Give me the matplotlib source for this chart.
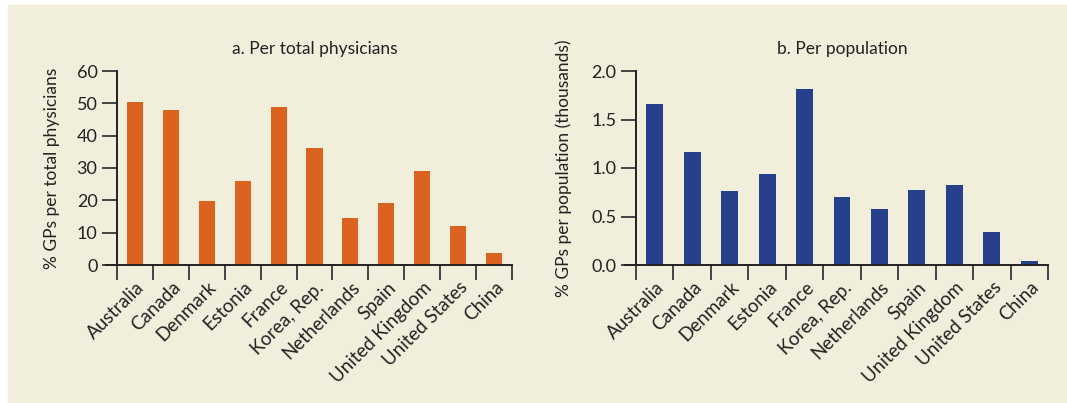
import numpy as np
import matplotlib
matplotlib.use('Agg')
import matplotlib.pyplot as plt
import matplotlib.transforms as mtransforms

plt.rcParams['font.family'] = ['Lato', 'DejaVu Sans']

countries = ['Australia', 'Canada', 'Denmark', 'Estonia', 'France', 'Korea, Rep.',
             'Netherlands', 'Spain', 'United Kingdom', 'United States', 'China']
per_physicians = [50.4, 47.9, 19.9, 26.0, 48.8, 36.2, 14.4, 19.3, 29.1, 12.2, 3.6]
per_population = [1.66, 1.17, 0.76, 0.94, 1.81, 0.70, 0.58, 0.77, 0.82, 0.34, 0.04]

bg = '#f2eedc'
orange = '#dc631f'
blue = '#27408b'

W, H = 1067, 403
fig = plt.figure(figsize=(W / 100, H / 100), dpi=100, facecolor='white')
# beige panel behind both charts
fig.patches.append(plt.Rectangle((8 / W, 0), 1 - 8 / W, 1 - 5 / H,
                                 transform=fig.transFigure, color=bg, zorder=-5))


def draw_panel(rect, values, color, yticks, ylabels, title, ylabel, labelpad):
    ax = fig.add_axes(rect)
    ax.set_facecolor('none')
    n = len(countries)
    x = np.arange(n)
    ax.bar(x, values, width=0.45, color=color, zorder=2)
    ax.set_xlim(-0.5, n - 0.5)
    ax.set_ylim(yticks[0], yticks[-1])
    for s in ['top', 'right']:
        ax.spines[s].set_visible(False)
    for s in ['left', 'bottom']:
        ax.spines[s].set_linewidth(1.4)
        ax.spines[s].set_color('#222222')
    ax.spines['bottom'].set_bounds(-0.5 - 11 / (rect[2] * W / n), n - 0.5)
    ax.spines['left'].set_bounds(yticks[0], yticks[-1])
    ax.set_yticks(yticks)
    ax.set_yticklabels(ylabels, fontsize=13, color='#222222')
    ax.tick_params(axis='y', length=11, width=1.4, color='#444444', pad=3)
    # x ticks between categories, labels at centres
    ax.set_xticks(np.arange(n + 1) - 0.5)
    ax.set_xticklabels([])
    ax.tick_params(axis='x', length=11, width=1.4, color='#444444')
    trans = mtransforms.blended_transform_factory(ax.transData, ax.transAxes)
    for i, c in enumerate(countries):
        ax.text(i + 0.02, -0.07, c, rotation=45, ha='right', va='top',
                fontsize=13.5, color='#222222', rotation_mode='anchor',
                transform=trans)
    ax.set_title(title, fontsize=12.5, color='#222222', pad=12)
    ax.set_ylabel(ylabel, fontsize=12.5, color='#222222', labelpad=labelpad)
    return ax


draw_panel([117 / W, 1 - 265 / H, 395 / W, 194 / H], per_physicians, orange,
           [0, 10, 20, 30, 40, 50, 60], ['0', '10', '20', '30', '40', '50', '60'],
           'a. Per total physicians', '% GPs per total physicians', 12)
draw_panel([636 / W, 1 - 265 / H, 412 / W, 194 / H], per_population, blue,
           [0, 0.5, 1.0, 1.5, 2.0], ['0.0', '0.5', '1.0', '1.5', '2.0'],
           'b. Per population', '% GPs per population (thousands)', 14)

fig.savefig('out.png', dpi=100, facecolor='white')
